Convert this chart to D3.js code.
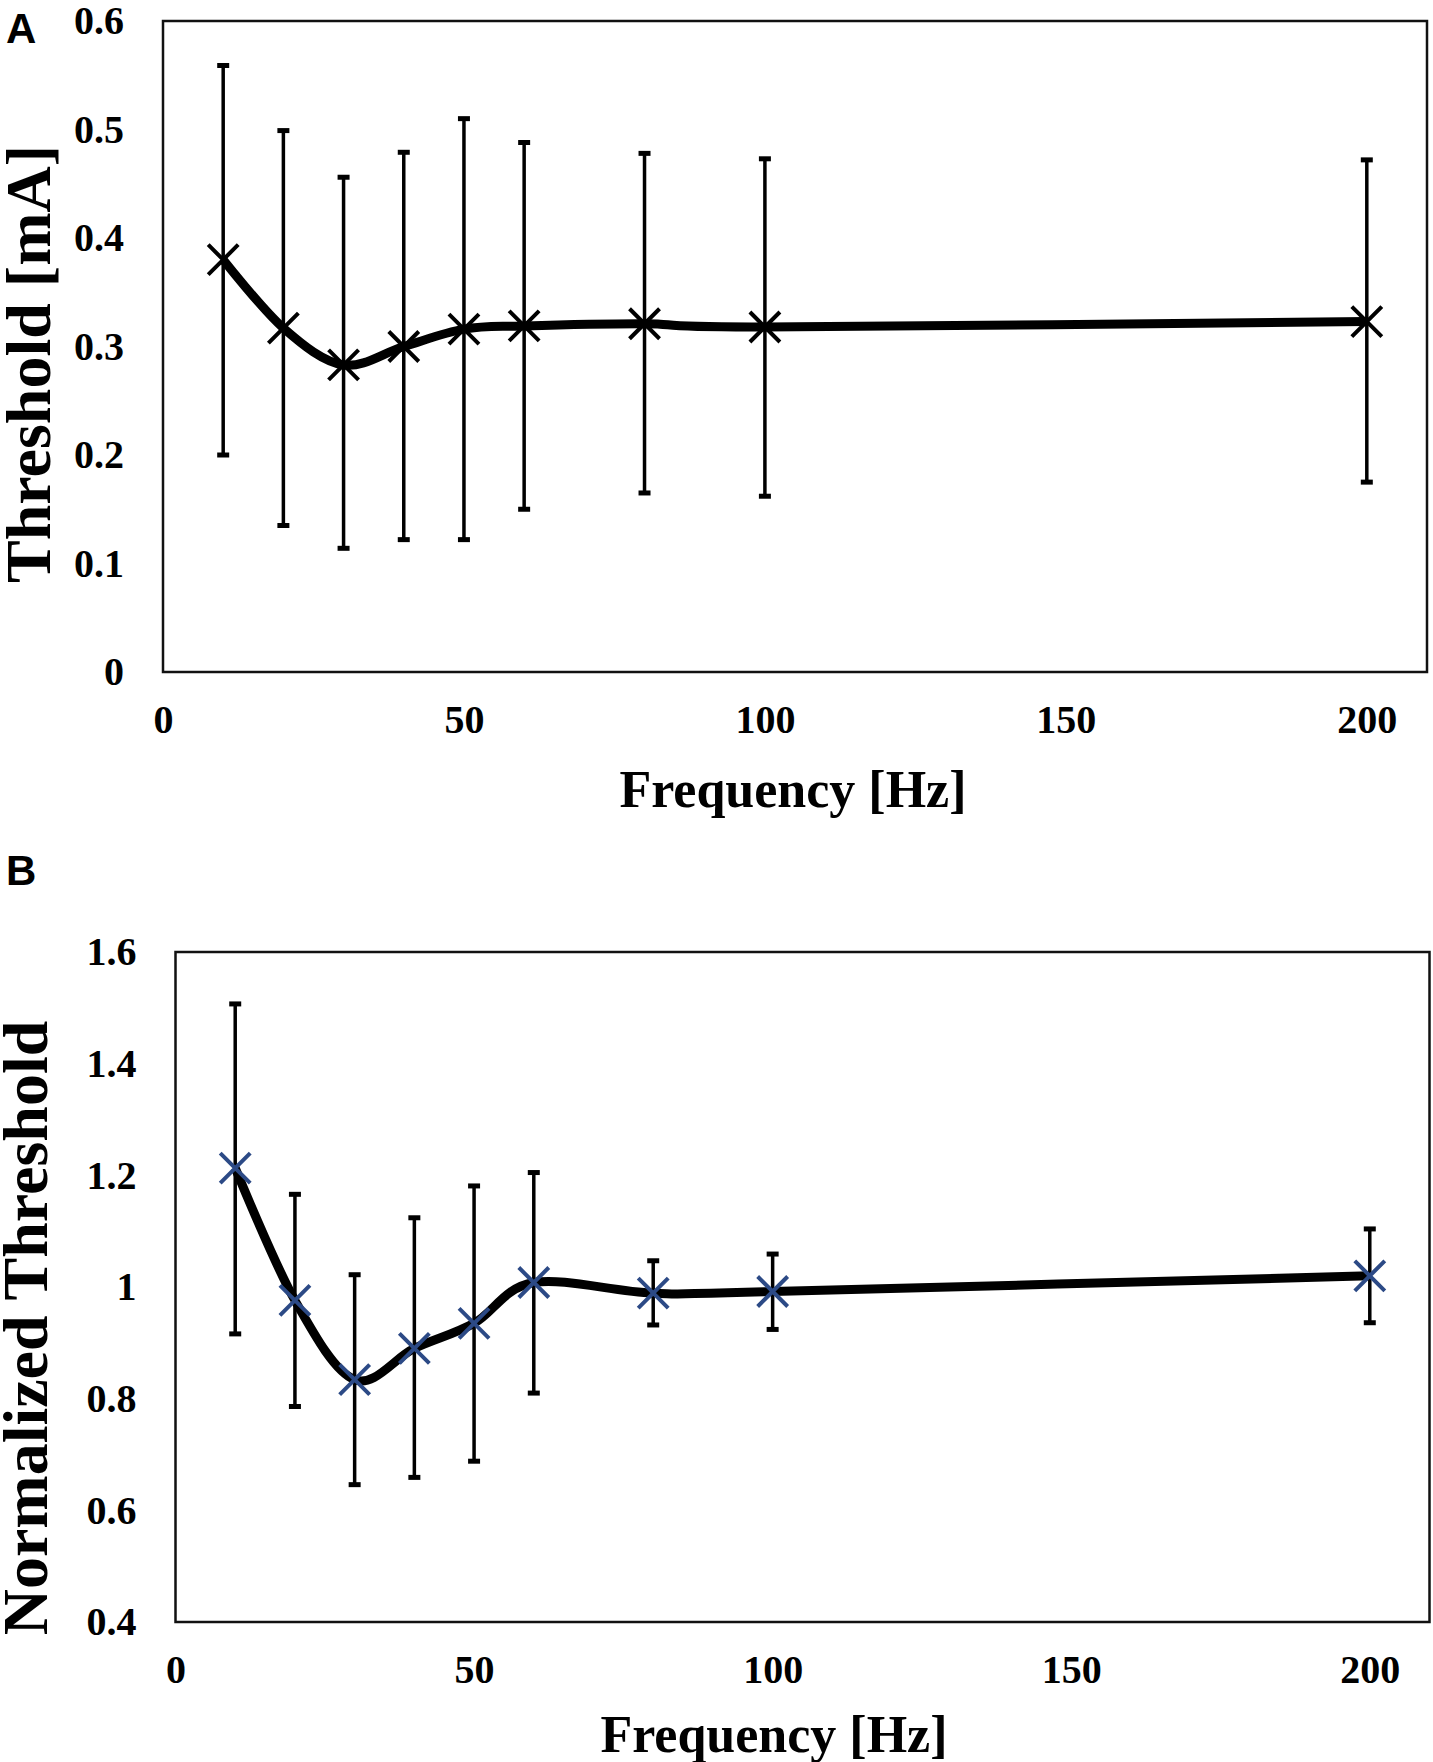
<!DOCTYPE html>
<html>
<head>
<meta charset="utf-8">
<script src="https://cdn.jsdelivr.net/npm/d3@7"></script>
<style>
  body { margin: 0; background: #fff; }
  svg { display: block; }
  .tick text { font-family: "Times New Roman", "Liberation Serif", serif; font-weight: bold; font-size: 40px; fill: #000; }
  .title { font-family: "Times New Roman", "Liberation Serif", serif; font-weight: bold; fill: #000; }
  .panel-label { font-family: Arial, "Liberation Sans", sans-serif; font-weight: bold; font-size: 42px; fill: #000; }
</style>
</head>
<body>
<svg width="1433" height="1762"></svg>
<script>
// Stimulation frequencies (Hz)
const freqs = [10, 20, 30, 40, 50, 60, 80, 100, 200];

// Panel A: threshold in mA, mean and error bar ends
const thresholdMean = [0.380, 0.317, 0.283, 0.300, 0.316, 0.319, 0.321, 0.318, 0.323];
const thresholdHigh = [0.559, 0.499, 0.456, 0.479, 0.510, 0.488, 0.478, 0.473, 0.472];
const thresholdLow  = [0.200, 0.135, 0.114, 0.122, 0.122, 0.150, 0.165, 0.162, 0.175];

// Panel B: normalized threshold
const normMean = [1.213, 0.976, 0.834, 0.890, 0.935, 1.008, 0.989, 0.992, 1.020];
const normHigh = [1.507, 1.166, 1.022, 1.124, 1.181, 1.205, 1.047, 1.059, 1.104];
const normLow  = [0.916, 0.786, 0.646, 0.659, 0.688, 0.810, 0.932, 0.924, 0.936];

// Tick values
const xTicks = [0, 50, 100, 150, 200];
const yTicksA = [0, 0.1, 0.2, 0.3, 0.4, 0.5, 0.6];
const yTicksB = [0.4, 0.6, 0.8, 1, 1.2, 1.4, 1.6];

const svg = d3.select("svg");
const fmt = d => String(+d.toFixed(1)); // 0 -> "0", 1.0 -> "1"

function drawPanel(cfg) {
    const x = d3.scaleLinear().domain([0, 210]).range([cfg.left, cfg.right]);
    const y = d3.scaleLinear().domain(cfg.yDomain).range([cfg.bottom, cfg.top]);
    const g = svg.append("g");

    // plot frame
    g.append("rect")
        .attr("x", cfg.left).attr("y", cfg.top)
        .attr("width", cfg.right - cfg.left).attr("height", cfg.bottom - cfg.top)
        .attr("fill", "none").attr("stroke", "#111").attr("stroke-width", 2.5);

    // axes (labels only, frame draws the lines)
    g.append("g")
        .attr("transform", `translate(0,${cfg.bottom})`)
        .call(d3.axisBottom(x).tickValues(xTicks).tickSize(0).tickPadding(33).tickFormat(d3.format("d")))
        .call(a => a.select(".domain").remove());

    g.append("g")
        .attr("transform", `translate(${cfg.left},0)`)
        .call(d3.axisLeft(y).tickValues(cfg.yTicks).tickSize(0).tickPadding(39).tickFormat(fmt))
        .call(a => a.select(".domain").remove());

    const pts = freqs.map((f, i) => ({ f, m: cfg.mean[i], hi: cfg.high[i], lo: cfg.low[i] }));

    // smoothed series line
    const line = d3.line()
        .x(d => x(d.f))
        .y(d => y(d.m))
        .curve(d3.curveCardinal.tension(0));

    g.append("path")
        .datum(pts)
        .attr("d", line)
        .attr("fill", "none")
        .attr("stroke", "#000")
        .attr("stroke-width", 9)
        .attr("stroke-linejoin", "round");

    // error bars
    const err = g.append("g").attr("stroke", "#000");
    err.selectAll(".bar")
        .data(pts).enter().append("line")
        .attr("x1", d => x(d.f)).attr("x2", d => x(d.f))
        .attr("y1", d => y(d.hi)).attr("y2", d => y(d.lo))
        .attr("stroke-width", 3.5);
    ["hi", "lo"].forEach(k => {
        err.selectAll(".cap-" + k)
            .data(pts).enter().append("line")
            .attr("x1", d => x(d.f) - 6).attr("x2", d => x(d.f) + 6)
            .attr("y1", d => y(d[k])).attr("y2", d => y(d[k]))
            .attr("stroke-width", 5);
    });

    // X markers
    const s = 15;
    g.selectAll(".marker")
        .data(pts).enter().append("path")
        .attr("d", d => {
            const cx = x(d.f), cy = y(d.m);
            return `M${cx - s},${cy - s}L${cx + s},${cy + s}M${cx - s},${cy + s}L${cx + s},${cy - s}`;
        })
        .attr("stroke", cfg.markerColor)
        .attr("stroke-width", 4)
        .attr("fill", "none");

    // axis titles
    g.append("text")
        .attr("class", "title")
        .attr("x", cfg.xTitlePos[0]).attr("y", cfg.xTitlePos[1])
        .attr("text-anchor", "middle")
        .style("font-size", "52px")
        .text("Frequency [Hz]");

    g.append("text")
        .attr("class", "title")
        .attr("transform", `translate(${cfg.yTitlePos[0]},${cfg.yTitlePos[1]}) rotate(-90)`)
        .attr("text-anchor", "middle")
        .style("font-size", "64px")
        .text(cfg.yTitle);

    // panel letter
    svg.append("text")
        .attr("class", "panel-label")
        .attr("x", cfg.letterPos[0]).attr("y", cfg.letterPos[1])
        .text(cfg.letter);
}

drawPanel({
    letter: "A", letterPos: [6, 43],
    left: 163, right: 1427, top: 21, bottom: 672,
    yDomain: [0, 0.6], yTicks: yTicksA,
    mean: thresholdMean, high: thresholdHigh, low: thresholdLow,
    markerColor: "#000",
    xTitlePos: [793, 807],
    yTitle: "Threshold [mA]", yTitlePos: [50, 364]
});

drawPanel({
    letter: "B", letterPos: [6, 885],
    left: 175.5, right: 1429.5, top: 952, bottom: 1622,
    yDomain: [0.4, 1.6], yTicks: yTicksB,
    mean: normMean, high: normHigh, low: normLow,
    markerColor: "#2c4a86",
    xTitlePos: [774, 1752],
    yTitle: "Normalized Threshold", yTitlePos: [47, 1328]
});
</script>
</body>
</html>
